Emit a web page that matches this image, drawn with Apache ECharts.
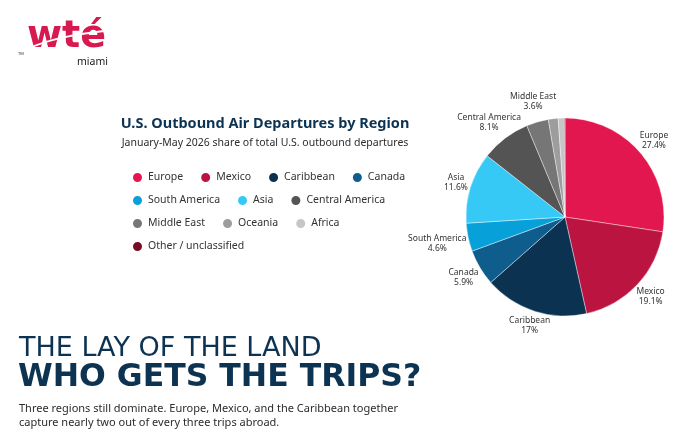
<!DOCTYPE html>
<html>
<head>
<meta charset="utf-8">
<title>U.S. Outbound Air Departures by Region</title>
<script src="https://cdn.jsdelivr.net/npm/echarts@6/dist/echarts.min.js"></script>
<style>
    html, body { margin: 0; padding: 0; background: #ffffff; }
    #chart { width: 700px; height: 434px; }
</style>
</head>
<body>
<div id="chart"></div>
<script>
// Share of Jan-May 2026 U.S. outbound departures, in percent
const regions = ['Europe', 'Mexico', 'Caribbean', 'Canada', 'South America', 'Asia',
    'Central America', 'Middle East', 'Oceania', 'Africa', 'Other / unclassified'];
const shares = [27.4, 19.1, 17, 5.9, 4.6, 11.6, 8.1, 3.6, 1.6, 1.0, 0.1];
const regionColors = ['#e3174f', '#bc1440', '#0b3250', '#0f5d8d', '#08a0d8', '#36c9f6',
    '#545454', '#767676', '#9d9d9d', '#c6c6c6', '#7a0b24'];

const navy = '#0d3353';
const pieCenter = [565, 217];
const pieRadius = 99;
const labelGap = 1;
const minLabelAngle = 12;

const chart = echarts.init(document.getElementById('chart'));

const pieData = regions.map((name, i) => ({
    name: name,
    value: shares[i],
    itemStyle: { color: regionColors[i] }
}));

// mid angle of each slice, degrees clockwise from 12 o'clock
const total = shares.reduce((a, b) => a + b, 0);
const midAngles = [];
let acc = 0;
shares.forEach(v => {
    midAngles.push((acc + v / 2) / total * 360);
    acc += v;
});

const labelSizes = [];
let labelPos = null;

// label centre just outside the pie along the slice direction,
// pushed out until its box clears the circle
function radialPos(i, w, h) {
    const a = midAngles[i] * Math.PI / 180;
    const ux = Math.sin(a);
    const uy = -Math.cos(a);
    const ax = Math.abs(ux), ay = Math.abs(uy);
    const R = pieRadius + labelGap;
    const us = ax * w + ay * h;
    let d = us + Math.sqrt(Math.max(0, us * us - (w * w + h * h) + R * R));
    if (d * ax < w) d = (R + h) / Math.max(ay, 1e-6);
    else if (d * ay < h) d = (R + w) / Math.max(ax, 1e-6);
    return { x: pieCenter[0] + d * ux, y: pieCenter[1] + d * uy };
}

function placeLabel(params) {
    const i = params.dataIndex;
    const w = params.labelRect.width / 2;
    const h = params.labelRect.height / 2;
    labelSizes[i] = { w: w, h: h };
    const p = (labelPos && labelPos[i]) ? labelPos[i] : radialPos(i, w, h);
    return { x: p.x, y: p.y, align: 'center', verticalAlign: 'middle' };
}

// nudge overlapping labels apart vertically
function resolveLabels() {
    const shown = [];
    const pos = [];
    shares.forEach((v, i) => {
        if (!labelSizes[i] || v / total * 360 < minLabelAngle) return;
        pos[i] = radialPos(i, labelSizes[i].w, labelSizes[i].h);
        shown.push(i);
    });
    for (let pass = 0; pass < 5; pass++) {
        for (let a = 0; a < shown.length; a++) {
            for (let b = a + 1; b < shown.length; b++) {
                const i = shown[a], j = shown[b];
                const si = labelSizes[i], sj = labelSizes[j];
                const pi = pos[i], pj = pos[j];
                const ox = Math.min(pi.x + si.w, pj.x + sj.w) - Math.max(pi.x - si.w, pj.x - sj.w);
                const oy = Math.min(pi.y + si.h, pj.y + sj.h) - Math.max(pi.y - si.h, pj.y - sj.h);
                if (ox > 0 && oy > -1) {
                    const shift = (oy + 1) / 2;
                    if (pi.y < pj.y) { pi.y -= shift; pj.y += shift; }
                    else { pi.y += shift; pj.y -= shift; }
                }
            }
        }
    }
    return pos;
}

const option = {
    backgroundColor: '#ffffff',
    animation: false,
    title: {
        text: 'U.S. Outbound Air Departures by Region',
        subtext: 'January-May 2026 share of total U.S. outbound departures',
        left: 260,
        top: 111,
        textAlign: 'center',
        itemGap: 7,
        textStyle: {
            fontFamily: 'Noto Sans',
            fontSize: 14.5,
            fontWeight: 'bold',
            color: navy
        },
        subtextStyle: {
            fontFamily: 'Noto Sans',
            fontSize: 10.5,
            color: '#2b2b2b'
        }
    },
    legend: {
        left: 126,
        top: 166,
        width: 300,
        icon: 'circle',
        itemWidth: 11,
        itemHeight: 11,
        itemGap: 10,
        textStyle: {
            fontFamily: 'Noto Sans',
            fontSize: 10.5,
            color: '#333333',
            lineHeight: 11,
            padding: [0, 6, 0, 0]
        },
        data: regions
    },
    series: [{
        type: 'pie',
        center: pieCenter,
        radius: pieRadius,
        startAngle: 90,
        clockwise: true,
        avoidLabelOverlap: false,
        minShowLabelAngle: minLabelAngle,
        itemStyle: { borderColor: '#ffffff', borderWidth: 0.4 },
        label: {
            show: true,
            position: 'outside',
            formatter: '{b}\n{c}%',
            fontFamily: 'Noto Sans',
            fontSize: 8.5,
            lineHeight: 10,
            color: '#333333'
        },
        labelLine: { show: false },
        labelLayout: placeLabel,
        emphasis: { disabled: true },
        data: pieData
    }],
    graphic: [
        // logo
        {
            type: 'text', left: 27, top: 18,
            style: {
                text: 'wté', fontFamily: 'DejaVu Sans', fontWeight: 'bold',
                fontSize: 38, fill: '#d8194f'
            }
        },
        {
            type: 'bezierCurve',
            shape: { x1: 25, y1: 50, x2: 104, y2: 31, cpx1: 50, cpy1: 38, cpx2: 80, cpy2: 34 },
            style: { stroke: '#ffffff', lineWidth: 2, fill: null }
        },
        {
            type: 'text', left: 18, top: 52,
            style: { text: 'TM', fontFamily: 'Noto Sans', fontSize: 4, fill: '#333333' }
        },
        {
            type: 'text', left: 77, top: 57,
            style: { text: 'miami', fontFamily: 'Noto Sans', fontSize: 10.5, fill: '#222222' }
        },
        // headline
        {
            type: 'text', left: 19, top: 335,
            style: {
                text: 'THE LAY OF THE LAND', fontFamily: 'DejaVu Sans',
                fontSize: 27, fill: navy
            }
        },
        {
            type: 'text', left: 18, top: 362,
            style: {
                text: 'WHO GETS THE TRIPS?', fontFamily: 'DejaVu Sans', fontWeight: 'bold',
                fontSize: 31.5, fill: navy
            }
        },
        {
            type: 'text', left: 19, top: 402,
            style: {
                text: 'Three regions still dominate. Europe, Mexico, and the Caribbean together\ncapture nearly two out of every three trips abroad.',
                fontFamily: 'Noto Sans', fontSize: 11, lineHeight: 14, fill: '#2b2b2b'
            }
        }
    ]
};

chart.setOption(option);

// second pass: label sizes are known now, spread out any that collide
labelPos = resolveLabels();
chart.setOption({ series: [{ labelLayout: p => placeLabel(p) }] });
</script>
</body>
</html>
